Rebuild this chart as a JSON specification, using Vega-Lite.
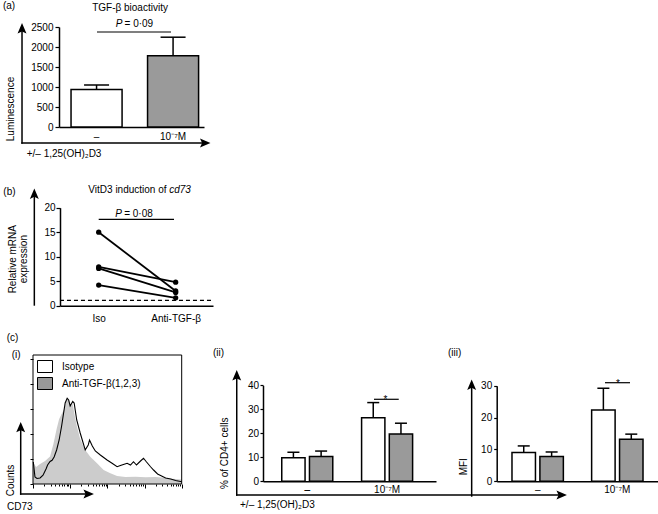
{
  "$schema": "https://vega.github.io/schema/vega-lite/v6.json",
  "width": 658,
  "height": 514,
  "autosize": {"type": "none"},
  "padding": 0,
  "background": "white",
  "config": {
    "view": {"stroke": null},
    "font": "Liberation Sans",
    "axis": {"labelFont": "Liberation Sans", "labelFontSize": 10, "labelColor": "black", "domainColor": "black", "tickColor": "black", "grid": false, "labelFlush": false, "labelOverlap": false, "labelBound": false, "zindex": 1},
    "text": {"font": "Liberation Sans", "fontSize": 10, "color": "black"}
  },
  "datasets": {
    "a": [
      {"dose": "–", "mean": 940, "upper": 1050},
      {"dose": "10⁻⁷M", "mean": 1780, "upper": 2245}
    ],
    "b": [
      {"subject": "1", "treatment": "Iso", "value": 15.0},
      {"subject": "1", "treatment": "Anti-TGF-β", "value": 3.0},
      {"subject": "2", "treatment": "Iso", "value": 7.9},
      {"subject": "2", "treatment": "Anti-TGF-β", "value": 4.8},
      {"subject": "3", "treatment": "Iso", "value": 7.6},
      {"subject": "3", "treatment": "Anti-TGF-β", "value": 2.7},
      {"subject": "4", "treatment": "Iso", "value": 4.2},
      {"subject": "4", "treatment": "Anti-TGF-β", "value": 1.6}
    ],
    "ci_iso": [
      {"cd73": 10.2, "count": 17.6}, {"cd73": 11.3, "count": 5.6}, {"cd73": 12.8, "count": 4.4},
      {"cd73": 15.5, "count": 4.8}, {"cd73": 18.6, "count": 7.0}, {"cd73": 22.4, "count": 12.0},
      {"cd73": 24.7, "count": 15.2}, {"cd73": 28.8, "count": 18.0}, {"cd73": 32.6, "count": 19.0},
      {"cd73": 37.0, "count": 21.6}, {"cd73": 43.2, "count": 27.2}, {"cd73": 50.5, "count": 35.2},
      {"cd73": 58.9, "count": 46.4}, {"cd73": 64.7, "count": 54.4}, {"cd73": 73.3, "count": 64.8},
      {"cd73": 83.0, "count": 68.6}, {"cd73": 91.1, "count": 67.2}, {"cd73": 100, "count": 62.4},
      {"cd73": 117, "count": 66.0}, {"cd73": 128, "count": 64.8}, {"cd73": 150, "count": 51.2},
      {"cd73": 186, "count": 40.8}, {"cd73": 254, "count": 27.2}, {"cd73": 306, "count": 31.2},
      {"cd73": 332, "count": 35.2}, {"cd73": 394, "count": 30.4}, {"cd73": 474, "count": 26.4},
      {"cd73": 647, "count": 23.2}, {"cd73": 982, "count": 19.2}, {"cd73": 1340, "count": 16.6},
      {"cd73": 1829, "count": 13.8}, {"cd73": 2244, "count": 14.8}, {"cd73": 2705, "count": 15.6},
      {"cd73": 3404, "count": 16.6}, {"cd73": 4185, "count": 15.2}, {"cd73": 5047, "count": 17.8},
      {"cd73": 6084, "count": 15.2}, {"cd73": 7798, "count": 18.4}, {"cd73": 9397, "count": 20.6},
      {"cd73": 11330, "count": 17.6}, {"cd73": 14520, "count": 13.8}, {"cd73": 17510, "count": 11.2},
      {"cd73": 22440, "count": 8.0}, {"cd73": 28780, "count": 6.4}, {"cd73": 36960, "count": 4.8},
      {"cd73": 50470, "count": 4.0}, {"cd73": 68870, "count": 2.8}, {"cd73": 100000, "count": 1.8}
    ],
    "ci_anti": [
      {"cd73": 10, "count": 17.6}, {"cd73": 12.1, "count": 13.6}, {"cd73": 15.5, "count": 16.0},
      {"cd73": 21.1, "count": 18.4}, {"cd73": 28.8, "count": 22.0}, {"cd73": 35.4, "count": 32.0},
      {"cd73": 43.2, "count": 44.0}, {"cd73": 50.5, "count": 52.0}, {"cd73": 58.9, "count": 56.0},
      {"cd73": 68.9, "count": 60.0}, {"cd73": 77.9, "count": 66.0}, {"cd73": 84.5, "count": 69.0},
      {"cd73": 94, "count": 66.0}, {"cd73": 103, "count": 62.4}, {"cd73": 117, "count": 64.0},
      {"cd73": 132, "count": 55.0}, {"cd73": 152, "count": 46.0}, {"cd73": 186, "count": 36.0},
      {"cd73": 254, "count": 27.2}, {"cd73": 347, "count": 21.8}, {"cd73": 527, "count": 16.6},
      {"cd73": 794, "count": 11.2}, {"cd73": 1205, "count": 8.6}, {"cd73": 1829, "count": 6.4},
      {"cd73": 3063, "count": 5.6}, {"cd73": 5715, "count": 5.8}, {"cd73": 10650, "count": 5.4},
      {"cd73": 19820, "count": 5.6}, {"cd73": 36960, "count": 5.0}, {"cd73": 57150, "count": 4.2},
      {"cd73": 100000, "count": 3.6}
    ],
    "ci_leg": [{"series": "Isotype"}, {"series": "Anti-TGF-β(1,2,3)"}],
    "cii": [
      {"dose": "–", "treatment": "Isotype", "mean": 9.8, "upper": 12.1},
      {"dose": "–", "treatment": "Anti-TGF-β", "mean": 10.3, "upper": 12.6},
      {"dose": "10⁻⁷M", "treatment": "Isotype", "mean": 26.5, "upper": 32.8},
      {"dose": "10⁻⁷M", "treatment": "Anti-TGF-β", "mean": 19.7, "upper": 24.2}
    ],
    "ciii": [
      {"dose": "–", "treatment": "Isotype", "mean": 9.0, "upper": 11.1},
      {"dose": "–", "treatment": "Anti-TGF-β", "mean": 7.8, "upper": 9.2},
      {"dose": "10⁻⁷M", "treatment": "Isotype", "mean": 22.4, "upper": 29.2},
      {"dose": "10⁻⁷M", "treatment": "Anti-TGF-β", "mean": 13.2, "upper": 14.8}
    ]
  },
  "resolve": {"scale": {"x": "independent", "y": "independent", "xOffset": "independent"}},
  "layer": [
    {
      "resolve": {"scale": {"x": "independent"}},
      "layer": [
        {
          "data": {"name": "a"},
          "layer": [
            {
              "mark": {"type": "bar", "stroke": "black", "strokeWidth": 1.5, "opacity": 1},
              "encoding": {
                "x": {"field": "dose", "type": "nominal", "sort": ["–", "10⁻⁷M"], "scale": {"type": "band", "range": [59, 204], "paddingInner": 0.333, "paddingOuter": 0.114, "align": 0.69}, "axis": {"orient": "bottom", "offset": -387, "title": null, "ticks": false, "tickSize": 0, "labelPadding": 4.5, "labelAngle": 0, "domainWidth": 1.5}},
                "y": {"field": "mean", "type": "quantitative", "scale": {"domain": [0, 2500], "range": [127, 27], "nice": false, "zero": false}, "axis": {"orient": "left", "offset": -59, "title": null, "format": "d", "values": [0, 500, 1000, 1500, 2000, 2500], "tickSize": 4, "tickWidth": 1.2, "labelPadding": 2, "domainWidth": 1.5}},
                "fill": {"condition": {"test": "datum.dose === '–'", "value": "white"}, "value": "#9a9a9a"}
              }
            },
            {
              "mark": {"type": "rule", "color": "black", "strokeWidth": 1.5},
              "encoding": {
                "x": {"field": "dose", "type": "nominal", "sort": ["–", "10⁻⁷M"]},
                "y": {"field": "mean", "type": "quantitative"},
                "y2": {"field": "upper"}
              }
            },
            {
              "mark": {"type": "tick", "color": "black", "size": 25, "thickness": 1.5, "opacity": 1},
              "encoding": {
                "x": {"field": "dose", "type": "nominal", "sort": ["–", "10⁻⁷M"]},
                "y": {"field": "upper", "type": "quantitative"}
              }
            }
          ]
        },
        {
          "data": {"values": [{}]},
          "layer": [
            {"mark": {"type": "rule", "color": "black", "strokeWidth": 1.5, "strokeCap": "square"},
             "encoding": {"x": {"datum": -0.975, "type": "quantitative", "scale": {"domain": [0, 1], "range": [96.6, 173.1], "nice": false, "zero": false}, "axis": null}, "y": {"datum": -400, "type": "quantitative"}, "y2": {"datum": 2466}}},
            {"mark": {"type": "rule", "color": "black", "strokeWidth": 1.5, "strokeCap": "square"},
             "encoding": {"x": {"datum": -0.975, "type": "quantitative", "scale": {"domain": [0, 1], "range": [96.6, 173.1], "nice": false, "zero": false}, "axis": null}, "x2": {"datum": 1.42}, "y": {"datum": -400, "type": "quantitative"}}},
            {"mark": {"type": "point", "shape": "M0,-1L0.85,1L0,0.6L-0.85,1Z", "filled": true, "size": 110, "color": "black", "opacity": 1, "strokeWidth": 0},
             "encoding": {"x": {"datum": -0.975, "type": "quantitative", "scale": {"domain": [0, 1], "range": [96.6, 173.1], "nice": false, "zero": false}, "axis": null}, "y": {"datum": 2466, "type": "quantitative"}}},
            {"mark": {"type": "point", "shape": "M1,0L-1,0.85L-0.6,0L-1,-0.85Z", "filled": true, "size": 110, "color": "black", "opacity": 1, "strokeWidth": 0},
             "encoding": {"x": {"datum": 1.42, "type": "quantitative", "scale": {"domain": [0, 1], "range": [96.6, 173.1], "nice": false, "zero": false}, "axis": null}, "y": {"datum": -400, "type": "quantitative"}}},
            {"mark": {"type": "rule", "color": "black", "strokeWidth": 1.2},
             "encoding": {"x": {"datum": 0.005, "type": "quantitative", "scale": {"domain": [0, 1], "range": [96.6, 173.1], "nice": false, "zero": false}, "axis": null}, "x2": {"datum": 0.973}, "y": {"datum": 2375, "type": "quantitative"}}},
            {"mark": {"type": "text", "text": "P", "fontStyle": "italic", "align": "right", "baseline": "alphabetic"},
             "encoding": {"x": {"datum": 0.336, "type": "quantitative", "scale": {"domain": [0, 1], "range": [96.6, 173.1], "nice": false, "zero": false}, "axis": null}, "y": {"datum": 2492, "type": "quantitative"}}},
            {"mark": {"type": "text", "text": "= 0·09", "align": "left", "baseline": "alphabetic"},
             "encoding": {"x": {"datum": 0.365, "type": "quantitative", "scale": {"domain": [0, 1], "range": [96.6, 173.1], "nice": false, "zero": false}, "axis": null}, "y": {"datum": 2492, "type": "quantitative"}}},
            {"mark": {"type": "text", "text": "TGF-β bioactivity", "align": "center", "baseline": "alphabetic"},
             "encoding": {"x": {"datum": 0.437, "type": "quantitative", "scale": {"domain": [0, 1], "range": [96.6, 173.1], "nice": false, "zero": false}, "axis": null}, "y": {"datum": 2900, "type": "quantitative"}}},
            {"mark": {"type": "text", "text": "(a)", "align": "left", "baseline": "alphabetic"},
             "encoding": {"x": {"datum": -1.224, "type": "quantitative", "scale": {"domain": [0, 1], "range": [96.6, 173.1], "nice": false, "zero": false}, "axis": null}, "y": {"datum": 2962, "type": "quantitative"}}},
            {"mark": {"type": "text", "text": "Luminescence", "angle": 270, "align": "center", "baseline": "middle"},
             "encoding": {"x": {"datum": -1.116, "type": "quantitative", "scale": {"domain": [0, 1], "range": [96.6, 173.1], "nice": false, "zero": false}, "axis": null}, "y": {"datum": 450, "type": "quantitative"}}},
            {"mark": {"type": "text", "text": "+/– 1,25(OH)₂D3", "align": "left", "baseline": "alphabetic"},
             "encoding": {"x": {"datum": -0.914, "type": "quantitative", "scale": {"domain": [0, 1], "range": [96.6, 173.1], "nice": false, "zero": false}, "axis": null}, "y": {"datum": -762, "type": "quantitative"}}}
          ]
        }
      ]
    },
    {
      "resolve": {"scale": {"x": "independent"}},
      "layer": [
        {
          "data": {"name": "b"},
          "layer": [
            {
              "mark": {"type": "line", "color": "black", "strokeWidth": 1.8},
              "encoding": {
                "x": {"field": "treatment", "type": "nominal", "sort": ["Iso", "Anti-TGF-β"], "scale": {"type": "point", "range": [60, 213], "padding": 0.494, "align": 0.509}, "axis": {"orient": "bottom", "offset": -208.3, "title": null, "ticks": false, "tickSize": 0, "labelPadding": 8, "labelAngle": 0, "domainWidth": 1.5}},
                "y": {"field": "value", "type": "quantitative", "scale": {"domain": [0, 20], "range": [305.7, 207.7], "nice": false, "zero": false}, "axis": {"orient": "left", "offset": -60, "title": null, "values": [0, 5, 10, 15, 20], "tickSize": 4, "tickWidth": 1.2, "labelPadding": 1, "domainWidth": 1.5}},
                "detail": {"field": "subject", "type": "nominal"}
              }
            },
            {
              "mark": {"type": "point", "filled": true, "size": 28, "color": "black", "opacity": 1},
              "encoding": {
                "x": {"field": "treatment", "type": "nominal", "sort": ["Iso", "Anti-TGF-β"]},
                "y": {"field": "value", "type": "quantitative"}
              }
            }
          ]
        },
        {
          "data": {"values": [{}]},
          "layer": [
            {"mark": {"type": "rule", "color": "black", "strokeWidth": 1.5},
             "encoding": {"x": {"datum": -0.836, "type": "quantitative", "scale": {"domain": [0, 1], "range": [98.7, 175.7], "nice": false, "zero": false}, "axis": null}, "y": {"datum": 0, "type": "quantitative"}, "y2": {"datum": 22.86}}},
            {"mark": {"type": "point", "shape": "M0,-1L0.85,1L0,0.6L-0.85,1Z", "filled": true, "size": 110, "color": "black", "opacity": 1, "strokeWidth": 0},
             "encoding": {"x": {"datum": -0.836, "type": "quantitative", "scale": {"domain": [0, 1], "range": [98.7, 175.7], "nice": false, "zero": false}, "axis": null}, "y": {"datum": 22.86, "type": "quantitative"}}},
            {"mark": {"type": "rule", "color": "black", "strokeWidth": 1.3, "strokeDash": [4, 3]},
             "encoding": {"x": {"datum": -0.503, "type": "quantitative", "scale": {"domain": [0, 1], "range": [98.7, 175.7], "nice": false, "zero": false}, "axis": null}, "x2": {"datum": 1.484}, "y": {"datum": 1.1, "type": "quantitative"}}},
            {"mark": {"type": "rule", "color": "black", "strokeWidth": 1.2},
             "encoding": {"x": {"datum": 0, "type": "quantitative", "scale": {"domain": [0, 1], "range": [98.7, 175.7], "nice": false, "zero": false}, "axis": null}, "x2": {"datum": 0.978}, "y": {"datum": 17.63, "type": "quantitative"}}},
            {"mark": {"type": "text", "text": "P", "fontStyle": "italic", "align": "right", "baseline": "alphabetic"},
             "encoding": {"x": {"datum": 0.303, "type": "quantitative", "scale": {"domain": [0, 1], "range": [98.7, 175.7], "nice": false, "zero": false}, "axis": null}, "y": {"datum": 18.2, "type": "quantitative"}}},
            {"mark": {"type": "text", "text": "= 0·08", "align": "left", "baseline": "alphabetic"},
             "encoding": {"x": {"datum": 0.331, "type": "quantitative", "scale": {"domain": [0, 1], "range": [98.7, 175.7], "nice": false, "zero": false}, "axis": null}, "y": {"datum": 18.2, "type": "quantitative"}}},
            {"mark": {"type": "text", "text": "VitD3 induction of", "align": "right", "baseline": "alphabetic"},
             "encoding": {"x": {"datum": 0.881, "type": "quantitative", "scale": {"domain": [0, 1], "range": [98.7, 175.7], "nice": false, "zero": false}, "axis": null}, "y": {"datum": 23.0, "type": "quantitative"}}},
            {"mark": {"type": "text", "text": "cd73", "fontStyle": "italic", "align": "left", "baseline": "alphabetic"},
             "encoding": {"x": {"datum": 0.916, "type": "quantitative", "scale": {"domain": [0, 1], "range": [98.7, 175.7], "nice": false, "zero": false}, "axis": null}, "y": {"datum": 23.0, "type": "quantitative"}}},
            {"mark": {"type": "text", "text": "(b)", "align": "left", "baseline": "alphabetic"},
             "encoding": {"x": {"datum": -1.239, "type": "quantitative", "scale": {"domain": [0, 1], "range": [98.7, 175.7], "nice": false, "zero": false}, "axis": null}, "y": {"datum": 22.6, "type": "quantitative"}}},
            {"mark": {"type": "text", "text": ["Relative mRNA", "expression"], "lineHeight": 11.5, "angle": 270, "align": "center", "baseline": "middle"},
             "encoding": {"x": {"datum": -1.114, "type": "quantitative", "scale": {"domain": [0, 1], "range": [98.7, 175.7], "nice": false, "zero": false}, "axis": null}, "y": {"datum": 9.49, "type": "quantitative"}}}
          ]
        }
      ]
    },
    {
      "layer": [
        {
          "data": {"name": "ci_anti"},
          "mark": {"type": "area", "color": "#cccccc", "opacity": 1},
          "encoding": {
            "x": {"field": "cd73", "type": "quantitative", "scale": {"type": "log", "domain": [10, 100000], "range": [33, 181.7], "nice": false}, "axis": {"orient": "bottom", "offset": -30, "title": null, "domain": false, "labels": false, "values": [10, 20, 30, 40, 50, 60, 70, 80, 90, 100, 200, 300, 400, 500, 600, 700, 800, 900, 1000, 2000, 3000, 4000, 5000, 6000, 7000, 8000, 9000, 10000, 20000, 30000, 40000, 50000, 60000, 70000, 80000, 90000, 100000], "tickWidth": 1, "tickSize": {"condition": {"test": "datum.value == 10 || datum.value == 100 || datum.value == 1000 || datum.value == 10000 || datum.value == 100000", "value": 4}, "value": 2}}},
            "y": {"field": "count", "type": "quantitative", "scale": {"domain": [0, 103.2], "range": [484, 355], "nice": false, "zero": false}, "axis": {"orient": "left", "offset": -33, "title": null, "domain": false, "labels": false, "values": [0, 20, 40, 60, 80, 100], "tickSize": 3, "tickWidth": 1}}
          }
        },
        {
          "data": {"name": "ci_iso"},
          "mark": {"type": "line", "color": "black", "strokeWidth": 1.1},
          "encoding": {
            "x": {"field": "cd73", "type": "quantitative"},
            "y": {"field": "count", "type": "quantitative"}
          }
        },
        {
          "data": {"values": [{}]},
          "mark": {"type": "rect", "filled": false, "color": "black", "strokeWidth": 1},
          "encoding": {
            "x": {"datum": 10, "type": "quantitative"},
            "x2": {"datum": 100000},
            "y": {"datum": 0, "type": "quantitative"},
            "y2": {"datum": 103.2}
          }
        },
        {
          "data": {"name": "ci_leg"},
          "mark": {"type": "point", "filled": true, "opacity": 0, "stroke": "black", "strokeWidth": 1},
          "encoding": {
            "fill": {"field": "series", "type": "nominal", "scale": {"domain": ["Isotype", "Anti-TGF-β(1,2,3)"], "range": ["white", "#999999"]},
              "legend": {"orient": "none", "legendX": 37, "legendY": 358.5, "title": null, "symbolType": "M-1,-0.8L1,-0.8L1,0.8L-1,0.8Z", "symbolSize": 225, "symbolStrokeColor": "black", "symbolStrokeWidth": 1, "symbolOpacity": 1, "labelFont": "Liberation Sans", "labelFontSize": 10, "labelColor": "black", "labelOffset": 9, "rowPadding": 1, "padding": 0}}
          }
        },
        {
          "data": {"values": [{}]},
          "layer": [
            {"mark": {"type": "rule", "color": "black", "strokeWidth": 1.5, "strokeCap": "square"},
             "encoding": {"x": {"datum": 4.67, "type": "quantitative"}, "y": {"datum": -8, "type": "quantitative"}, "y2": {"datum": 45.5}}},
            {"mark": {"type": "rule", "color": "black", "strokeWidth": 1.5, "strokeCap": "square"},
             "encoding": {"x": {"datum": 4.67, "type": "quantitative"}, "x2": {"datum": 315}, "y": {"datum": -8, "type": "quantitative"}}},
            {"mark": {"type": "point", "shape": "M0,-1L0.85,1L0,0.6L-0.85,1Z", "filled": true, "size": 110, "color": "black", "opacity": 1, "strokeWidth": 0},
             "encoding": {"x": {"datum": 4.67, "type": "quantitative"}, "y": {"datum": 45.5, "type": "quantitative"}}},
            {"mark": {"type": "point", "shape": "M1,0L-1,0.85L-0.6,0L-1,-0.85Z", "filled": true, "size": 110, "color": "black", "opacity": 1, "strokeWidth": 0},
             "encoding": {"x": {"datum": 315, "type": "quantitative"}, "y": {"datum": -8, "type": "quantitative"}}},
            {"mark": {"type": "text", "text": "Counts", "angle": 270, "align": "center", "baseline": "middle"},
             "encoding": {"x": {"datum": 2.56, "type": "quantitative"}, "y": {"datum": 2.8, "type": "quantitative"}}},
            {"mark": {"type": "text", "text": "CD73", "align": "left", "baseline": "alphabetic"},
             "encoding": {"x": {"datum": 2.0, "type": "quantitative"}, "y": {"datum": -20.8, "type": "quantitative"}}},
            {"mark": {"type": "text", "text": "(c)", "align": "left", "baseline": "alphabetic"},
             "encoding": {"x": {"datum": 1.96, "type": "quantitative"}, "y": {"datum": 114.4, "type": "quantitative"}}},
            {"mark": {"type": "text", "text": "(i)", "align": "left", "baseline": "alphabetic"},
             "encoding": {"x": {"datum": 2.67, "type": "quantitative"}, "y": {"datum": 101.2, "type": "quantitative"}}}
          ]
        }
      ]
    },
    {
      "resolve": {"scale": {"x": "independent"}},
      "layer": [
        {
          "data": {"name": "cii"},
          "layer": [
            {
              "mark": {"type": "bar", "stroke": "black", "strokeWidth": 1.5, "opacity": 1},
              "encoding": {
                "x": {"field": "dose", "type": "nominal", "sort": ["–", "10⁻⁷M"], "scale": {"type": "band", "range": [263, 436], "paddingInner": 0.361, "paddingOuter": 0.264, "align": 0.445}, "axis": {"orient": "bottom", "offset": -32.7, "title": null, "ticks": false, "tickSize": 0, "labelPadding": 3.5, "labelAngle": 0, "domainWidth": 1.5}},
                "xOffset": {"field": "treatment", "type": "nominal", "sort": ["Isotype", "Anti-TGF-β"], "scale": {"paddingInner": 0.159, "paddingOuter": 0}},
                "y": {"field": "mean", "type": "quantitative", "scale": {"domain": [0, 40], "range": [481.3, 385.3], "nice": false, "zero": false}, "axis": {"orient": "left", "offset": -263, "title": null, "values": [0, 10, 20, 30, 40], "tickSize": 3, "tickWidth": 1.2, "labelPadding": 1.5, "domainWidth": 1.5}},
                "fill": {"condition": {"test": "datum.treatment === 'Isotype'", "value": "white"}, "value": "#9a9a9a"}
              }
            },
            {
              "mark": {"type": "rule", "color": "black", "strokeWidth": 1.5},
              "encoding": {
                "x": {"field": "dose", "type": "nominal", "sort": ["–", "10⁻⁷M"]},
                "xOffset": {"field": "treatment", "type": "nominal", "sort": ["Isotype", "Anti-TGF-β"]},
                "y": {"field": "mean", "type": "quantitative"},
                "y2": {"field": "upper"}
              }
            },
            {
              "mark": {"type": "tick", "color": "black", "size": 12, "thickness": 1.5, "opacity": 1},
              "encoding": {
                "x": {"field": "dose", "type": "nominal", "sort": ["–", "10⁻⁷M"]},
                "xOffset": {"field": "treatment", "type": "nominal", "sort": ["Isotype", "Anti-TGF-β"]},
                "y": {"field": "upper", "type": "quantitative"}
              }
            }
          ]
        },
        {
          "data": {"values": [{}]},
          "layer": [
            {"mark": {"type": "rule", "color": "black", "strokeWidth": 1.5, "strokeCap": "square"},
             "encoding": {"x": {"datum": -0.883, "type": "quantitative", "scale": {"domain": [0, 1], "range": [307.2, 387.0], "nice": false, "zero": false}, "axis": null}, "y": {"datum": -5.71, "type": "quantitative"}, "y2": {"datum": 44.15}}},
            {"mark": {"type": "rule", "color": "black", "strokeWidth": 1.5, "strokeCap": "square"},
             "encoding": {"x": {"datum": -0.883, "type": "quantitative", "scale": {"domain": [0, 1], "range": [307.2, 387.0], "nice": false, "zero": false}, "axis": null}, "x2": {"datum": 3.189}, "y": {"datum": -5.71, "type": "quantitative"}}},
            {"mark": {"type": "point", "shape": "M0,-1L0.85,1L0,0.6L-0.85,1Z", "filled": true, "size": 110, "color": "black", "opacity": 1, "strokeWidth": 0},
             "encoding": {"x": {"datum": -0.883, "type": "quantitative", "scale": {"domain": [0, 1], "range": [307.2, 387.0], "nice": false, "zero": false}, "axis": null}, "y": {"datum": 44.15, "type": "quantitative"}}},
            {"mark": {"type": "point", "shape": "M1,0L-1,0.85L-0.6,0L-1,-0.85Z", "filled": true, "size": 110, "color": "black", "opacity": 1, "strokeWidth": 0},
             "encoding": {"x": {"datum": 3.189, "type": "quantitative", "scale": {"domain": [0, 1], "range": [307.2, 387.0], "nice": false, "zero": false}, "axis": null}, "y": {"datum": -5.71, "type": "quantitative"}}},
            {"mark": {"type": "rule", "color": "black", "strokeWidth": 1.2},
             "encoding": {"x": {"datum": 0.837, "type": "quantitative", "scale": {"domain": [0, 1], "range": [307.2, 387.0], "nice": false, "zero": false}, "axis": null}, "x2": {"datum": 1.147}, "y": {"datum": 34.17, "type": "quantitative"}}},
            {"mark": {"type": "text", "text": "*", "align": "center", "baseline": "alphabetic"},
             "encoding": {"x": {"datum": 0.981, "type": "quantitative", "scale": {"domain": [0, 1], "range": [307.2, 387.0], "nice": false, "zero": false}, "axis": null}, "y": {"datum": 32.5, "type": "quantitative"}}},
            {"mark": {"type": "text", "text": "–", "align": "center", "baseline": "alphabetic"},
             "encoding": {"x": {"datum": 0, "type": "quantitative", "scale": {"domain": [0, 1], "range": [307.2, 387.0], "nice": false, "zero": false}, "axis": null}, "y": {"datum": -4.75, "type": "quantitative"}}},
            {"mark": {"type": "text", "text": "% of CD4+ cells", "angle": 270, "align": "center", "baseline": "middle"},
             "encoding": {"x": {"datum": -1.03, "type": "quantitative", "scale": {"domain": [0, 1], "range": [307.2, 387.0], "nice": false, "zero": false}, "axis": null}, "y": {"datum": 11.67, "type": "quantitative"}}},
            {"mark": {"type": "text", "text": "+/– 1,25(OH)₂D3", "align": "left", "baseline": "alphabetic"},
             "encoding": {"x": {"datum": -0.842, "type": "quantitative", "scale": {"domain": [0, 1], "range": [307.2, 387.0], "nice": false, "zero": false}, "axis": null}, "y": {"datum": -10.92, "type": "quantitative"}}},
            {"mark": {"type": "text", "text": "(ii)", "align": "left", "baseline": "alphabetic"},
             "encoding": {"x": {"datum": -1.18, "type": "quantitative", "scale": {"domain": [0, 1], "range": [307.2, 387.0], "nice": false, "zero": false}, "axis": null}, "y": {"datum": 52.4, "type": "quantitative"}}}
          ]
        }
      ]
    },
    {
      "resolve": {"scale": {"x": "independent"}},
      "layer": [
        {
          "data": {"name": "ciii"},
          "layer": [
            {
              "mark": {"type": "bar", "stroke": "black", "strokeWidth": 1.5, "opacity": 1},
              "encoding": {
                "x": {"field": "dose", "type": "nominal", "sort": ["–", "10⁻⁷M"], "scale": {"type": "band", "range": [496.7, 658], "paddingInner": 0.355, "paddingOuter": 0.19, "align": 0.505}, "axis": {"orient": "bottom", "offset": -32.7, "title": null, "ticks": false, "tickSize": 0, "labelPadding": 3.5, "labelAngle": 0, "domainWidth": 1.5}},
                "xOffset": {"field": "treatment", "type": "nominal", "sort": ["Isotype", "Anti-TGF-β"], "scale": {"paddingInner": 0.159, "paddingOuter": 0}},
                "y": {"field": "mean", "type": "quantitative", "scale": {"domain": [0, 30], "range": [481.3, 385.7], "nice": false, "zero": false}, "axis": {"orient": "left", "offset": -496.7, "title": null, "values": [0, 10, 20, 30], "tickSize": 3, "tickWidth": 1.2, "labelPadding": 2, "domainWidth": 1.5}},
                "fill": {"condition": {"test": "datum.treatment === 'Isotype'", "value": "white"}, "value": "#9a9a9a"}
              }
            },
            {
              "mark": {"type": "rule", "color": "black", "strokeWidth": 1.5},
              "encoding": {
                "x": {"field": "dose", "type": "nominal", "sort": ["–", "10⁻⁷M"]},
                "xOffset": {"field": "treatment", "type": "nominal", "sort": ["Isotype", "Anti-TGF-β"]},
                "y": {"field": "mean", "type": "quantitative"},
                "y2": {"field": "upper"}
              }
            },
            {
              "mark": {"type": "tick", "color": "black", "size": 12, "thickness": 1.5, "opacity": 1},
              "encoding": {
                "x": {"field": "dose", "type": "nominal", "sort": ["–", "10⁻⁷M"]},
                "xOffset": {"field": "treatment", "type": "nominal", "sort": ["Isotype", "Anti-TGF-β"]},
                "y": {"field": "upper", "type": "quantitative"}
              }
            }
          ]
        },
        {
          "data": {"values": [{}]},
          "layer": [
            {"mark": {"type": "rule", "color": "black", "strokeWidth": 1.5, "strokeCap": "square"},
             "encoding": {"x": {"datum": -0.826, "type": "quantitative", "scale": {"domain": [0, 1], "range": [537.5, 617.2], "nice": false, "zero": false}, "axis": null}, "y": {"datum": -4.61, "type": "quantitative"}, "y2": {"datum": 30.33}}},
            {"mark": {"type": "point", "shape": "M0,-1L0.85,1L0,0.6L-0.85,1Z", "filled": true, "size": 110, "color": "black", "opacity": 1, "strokeWidth": 0},
             "encoding": {"x": {"datum": -0.826, "type": "quantitative", "scale": {"domain": [0, 1], "range": [537.5, 617.2], "nice": false, "zero": false}, "axis": null}, "y": {"datum": 30.33, "type": "quantitative"}}},
            {"mark": {"type": "rule", "color": "black", "strokeWidth": 1.2},
             "encoding": {"x": {"datum": 0.847, "type": "quantitative", "scale": {"domain": [0, 1], "range": [537.5, 617.2], "nice": false, "zero": false}, "axis": null}, "x2": {"datum": 1.161}, "y": {"datum": 30.94, "type": "quantitative"}}},
            {"mark": {"type": "text", "text": "*", "align": "center", "baseline": "alphabetic"},
             "encoding": {"x": {"datum": 1.01, "type": "quantitative", "scale": {"domain": [0, 1], "range": [537.5, 617.2], "nice": false, "zero": false}, "axis": null}, "y": {"datum": 29.59, "type": "quantitative"}}},
            {"mark": {"type": "text", "text": "MFI", "angle": 270, "align": "center", "baseline": "middle"},
             "encoding": {"x": {"datum": -0.918, "type": "quantitative", "scale": {"domain": [0, 1], "range": [537.5, 617.2], "nice": false, "zero": false}, "axis": null}, "y": {"datum": 4.58, "type": "quantitative"}}},
            {"mark": {"type": "text", "text": "(iii)", "align": "left", "baseline": "alphabetic"},
             "encoding": {"x": {"datum": -1.123, "type": "quantitative", "scale": {"domain": [0, 1], "range": [537.5, 617.2], "nice": false, "zero": false}, "axis": null}, "y": {"datum": 39.3, "type": "quantitative"}}}
          ]
        }
      ]
    }
  ]
}
